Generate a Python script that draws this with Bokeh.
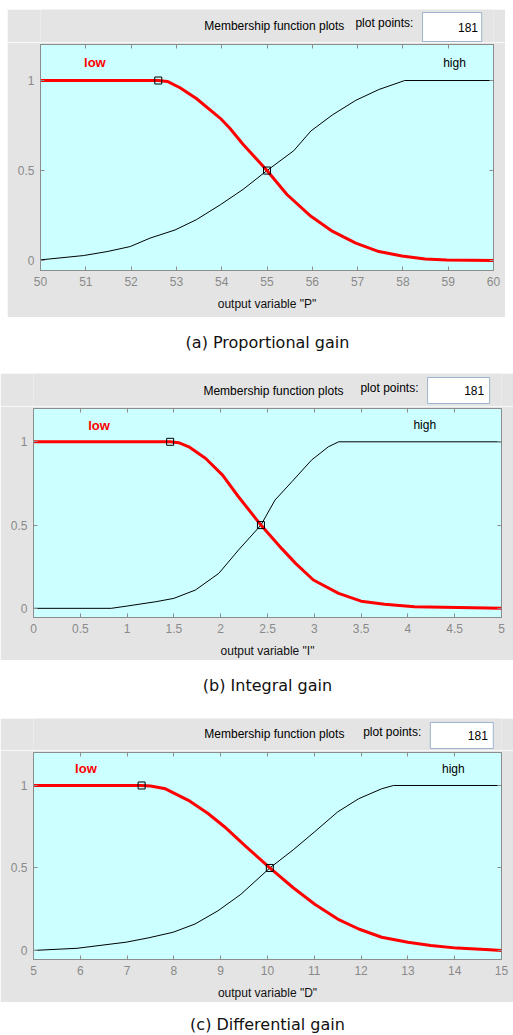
from bokeh.plotting import figure
from bokeh.models import Range1d, FixedTicker, LinearAxis, Label, CustomJSTickFormatter
from bokeh.layouts import column
from bokeh.embed import file_html
from bokeh.resources import INLINE

# ---------------- data ----------------
# (a) Proportional gain, output variable "P"
P_LOW_X = [50, 52.6, 52.8, 53.08, 53.44, 53.97, 54.18, 54.47, 55.0, 55.44, 55.97, 56.45, 56.96, 57.47, 57.98, 58.49, 58.97, 60]
P_LOW_Y = [1, 1, 0.995, 0.96, 0.90, 0.79, 0.735, 0.646, 0.50, 0.367, 0.246, 0.162, 0.097, 0.05, 0.026, 0.009, 0.003, 0]
P_HIGH_X = [50, 50.95, 51.47, 51.98, 52.42, 52.97, 53.44, 53.97, 54.47, 55.0, 55.59, 55.97, 56.45, 56.96, 57.47, 58.04, 60]
P_HIGH_Y = [0.004, 0.028, 0.05, 0.078, 0.125, 0.17, 0.227, 0.31, 0.395, 0.5, 0.61, 0.72, 0.81, 0.89, 0.95, 1.0, 1.0]
P_MARK_X = [52.6, 55.0]
P_MARK_Y = [1, 0.5]
P_TICKS = [50, 51, 52, 53, 54, 55, 56, 57, 58, 59, 60]
P_TICK_LABELS = ["50", "51", "52", "53", "54", "55", "56", "57", "58", "59", "60"]

# (b) Integral gain, output variable "I"
I_LOW_X = [0, 1.46, 1.55, 1.66, 1.84, 2.02, 2.19, 2.43, 2.65, 2.80, 2.99, 3.26, 3.50, 3.75, 4.07, 5]
I_LOW_Y = [1, 1, 0.995, 0.97, 0.90, 0.80, 0.67, 0.50, 0.36, 0.27, 0.17, 0.09, 0.043, 0.025, 0.01, 0]
I_HIGH_X = [0, 0.83, 0.99, 1.31, 1.50, 1.73, 1.98, 2.19, 2.43, 2.58, 2.76, 2.97, 3.15, 3.26, 5]
I_HIGH_Y = [0, 0, 0.013, 0.04, 0.06, 0.11, 0.21, 0.35, 0.5, 0.65, 0.76, 0.89, 0.97, 1.0, 1.0]
I_MARK_X = [1.46, 2.43]
I_MARK_Y = [1, 0.5]
I_TICKS = [0, 0.5, 1, 1.5, 2, 2.5, 3, 3.5, 4, 4.5, 5]
I_TICK_LABELS = ["0", "0.5", "1", "1.5", "2", "2.5", "3", "3.5", "4", "4.5", "5"]

# (c) Differential gain, output variable "D"
D_LOW_X = [5, 7.31, 7.5, 7.82, 8.31, 8.73, 9.08, 9.50, 10.05, 10.55, 11.01, 11.50, 11.95, 12.44, 13.0, 13.49, 14.05, 14.75, 15]
D_LOW_Y = [1, 1, 0.997, 0.98, 0.91, 0.83, 0.75, 0.64, 0.50, 0.38, 0.28, 0.19, 0.13, 0.08, 0.05, 0.03, 0.014, 0.004, 0]
D_HIGH_X = [5, 5.93, 6.98, 7.47, 7.98, 8.45, 8.94, 9.43, 10.05, 10.55, 11.01, 11.50, 11.95, 12.44, 12.69, 15]
D_HIGH_Y = [0, 0.013, 0.05, 0.077, 0.11, 0.16, 0.24, 0.34, 0.50, 0.61, 0.72, 0.84, 0.92, 0.98, 1.0, 1.0]
D_MARK_X = [7.31, 10.05]
D_MARK_Y = [1, 0.5]
D_TICKS = [5, 6, 7, 8, 9, 10, 11, 12, 13, 14, 15]
D_TICK_LABELS = ["5", "6", "7", "8", "9", "10", "11", "12", "13", "14", "15"]

Y_TICKS = [0, 0.5, 1]
Y_TICK_LABELS = ["0", "0.5", "1"]

TITLE = "Membership function plots"
PP_TEXT = "plot points:"
PP_VALUE = "181"
CAPTIONS = ["(a) Proportional gain", "(b) Integral gain", "(c) Differential gain"]

# ---------------- styling ----------------
GREY = "#e4e4e4"
CYAN = "#ccffff"
FRAME = "#8c8c8c"
TICKC = "#8a8a8a"
FONT = "Liberation Sans"


def header(width, height, margin, title_xy, pp_xy, box, val_xy):
    """Grey strip above each plot holding the dialog texts (pixel coordinates)."""
    h = figure(width=width, height=height, output_backend="svg", toolbar_location=None,
               x_range=Range1d(0, width), y_range=Range1d(0, height),
               min_border=0, background_fill_color=GREY, border_fill_color=GREY,
               outline_line_color=None)
    h.margin = margin
    h.axis.visible = False
    h.grid.visible = False
    h.add_layout(Label(x=title_xy[0], y=title_xy[1], text=TITLE,
                       text_font=FONT, text_font_size="12px", text_color="#000000",
                       text_align="center", text_baseline="middle"))
    h.add_layout(Label(x=pp_xy[0], y=pp_xy[1], text=PP_TEXT,
                       text_font=FONT, text_font_size="12px", text_color="#000000",
                       text_align="right", text_baseline="middle"))
    h.quad(left=[box[0]], right=[box[1]], bottom=[box[2]], top=[box[3]],
           fill_color="#ffffff", line_color="#9db3cf", line_width=1)
    h.add_layout(Label(x=val_xy[0], y=val_xy[1], text=PP_VALUE,
                       text_font=FONT, text_font_size="12px", text_color="#000000",
                       text_align="right", text_baseline="middle"))
    return h


def panel(xr, ticks, tick_labels, xlabel, lx, ly, hx, hy, mx, my,
          low_pos, high_pos, width, height, borders, margin):
    bl, br, bt, bb = borders
    p = figure(width=width, height=height, output_backend="svg", toolbar_location=None,
               x_range=Range1d(xr[0], xr[1]), y_range=Range1d(-0.055, 1.2),
               min_border_left=bl, min_border_right=br, min_border_top=bt, min_border_bottom=bb,
               background_fill_color=CYAN, border_fill_color=GREY,
               outline_line_color=FRAME, outline_line_width=1)
    p.margin = margin
    p.grid.visible = False

    xa = p.xaxis[0]
    xa.ticker = FixedTicker(ticks=ticks)
    xa.major_label_overrides = {t: s for t, s in zip(ticks, tick_labels)}
    xa.axis_label = xlabel
    ya = p.yaxis[0]
    ya.ticker = FixedTicker(ticks=Y_TICKS)
    ya.major_label_overrides = {t: s for t, s in zip(Y_TICKS, Y_TICK_LABELS)}
    for ax in (xa, ya):
        ax.axis_line_color = FRAME
        ax.major_tick_in = 4
        ax.major_tick_out = 0
        ax.major_tick_line_color = FRAME
        ax.minor_tick_line_color = None
        ax.major_label_text_color = TICKC
        ax.major_label_text_font = FONT
        ax.major_label_text_font_size = "12px"
        ax.major_label_standoff = 6
    xa.axis_label_text_font = FONT
    xa.axis_label_text_font_size = "12px"
    xa.axis_label_text_font_style = "normal"
    xa.axis_label_text_color = "#111111"
    xa.axis_label_standoff = 8

    empty = CustomJSTickFormatter(code="return ''")
    top = LinearAxis(ticker=FixedTicker(ticks=ticks), formatter=empty, axis_line_color=None,
                     major_tick_in=4, major_tick_out=0, major_tick_line_color=FRAME,
                     minor_tick_line_color=None, major_label_standoff=0,
                     major_label_text_font_size="0px")
    right = LinearAxis(ticker=FixedTicker(ticks=Y_TICKS), formatter=empty, axis_line_color=None,
                       major_tick_in=4, major_tick_out=0, major_tick_line_color=FRAME,
                       minor_tick_line_color=None, major_label_standoff=0,
                       major_label_text_font_size="0px")
    p.add_layout(top, "above")
    p.add_layout(right, "right")

    p.line(hx, hy, line_color="#000000", line_width=1)
    p.line(lx, ly, line_color="#ff0000", line_width=3)
    p.scatter(mx, my, marker="square", size=7, fill_color=None, line_color="#000000", line_width=1)

    p.add_layout(Label(x=low_pos[0], y=low_pos[1], text="low", text_color="#ff0000",
                       text_font=FONT, text_font_size="13px", text_font_style="bold",
                       text_align="center", text_baseline="middle"))
    p.add_layout(Label(x=high_pos[0], y=high_pos[1], text="high", text_color="#000000",
                       text_font=FONT, text_font_size="12px",
                       text_align="center", text_baseline="middle"))
    return p


def caption(text, height, y):
    c = figure(width=513, height=height, output_backend="svg", toolbar_location=None,
               x_range=Range1d(0, 513), y_range=Range1d(0, height),
               min_border=0, border_fill_color="#ffffff", background_fill_color="#ffffff",
               outline_line_color=None)
    c.axis.visible = False
    c.grid.visible = False
    c.add_layout(Label(x=256.5, y=y, text=text,
                       text_font="DejaVu Sans", text_font_size="16px", text_color="#111111",
                       text_align="center", text_baseline="middle"))
    return c


# panel (a): grey block x 7..505, y 9..317
ha = header(498, 33, (9, 0, 0, 7), (257, 17), (410, 20), (420, 485, 1, 30), (481, 15.5))
pa = panel((50, 60), P_TICKS, P_TICK_LABELS, 'output variable "P"',
           P_LOW_X, P_LOW_Y, P_HIGH_X, P_HIGH_Y, P_MARK_X, P_MARK_Y,
           (51.2, 1.10), (59.14, 1.10), 498, 275, (33, 10, 2, 47), (0, 0, 0, 7))
ca = caption(CAPTIONS[0], 56, 31)

# panel (b): grey block y 373..660
hb = header(513, 33, (0, 0, 0, 0), (263, 16), (422, 19), (432, 500, 3, 29), (494, 16))
pb = panel((0, 5), I_TICKS, I_TICK_LABELS, 'output variable "I"',
           I_LOW_X, I_LOW_Y, I_HIGH_X, I_HIGH_Y, I_MARK_X, I_MARK_Y,
           (0.70, 1.10), (4.18, 1.10), 513, 254, (30, 12, 2, 43), (0, 0, 0, 0))
cb = caption(CAPTIONS[1], 58, 33)

# panel (c): grey block y 718..1002
hc = header(513, 32, (0, 0, 0, 0), (264, 17), (425, 19), (435, 504, 2, 28), (498, 15))
pc = panel((5, 15), D_TICKS, D_TICK_LABELS, 'output variable "D"',
           D_LOW_X, D_LOW_Y, D_HIGH_X, D_HIGH_Y, D_MARK_X, D_MARK_Y,
           (6.12, 1.10), (13.97, 1.10), 513, 252, (29, 8, 2, 41), (0, 0, 0, 0))
cc = caption(CAPTIONS[2], 33, 11)

layout = column(ha, pa, ca, hb, pb, cb, hc, pc, cc, spacing=0)
open("out.html", "w").write(file_html(layout, INLINE))
